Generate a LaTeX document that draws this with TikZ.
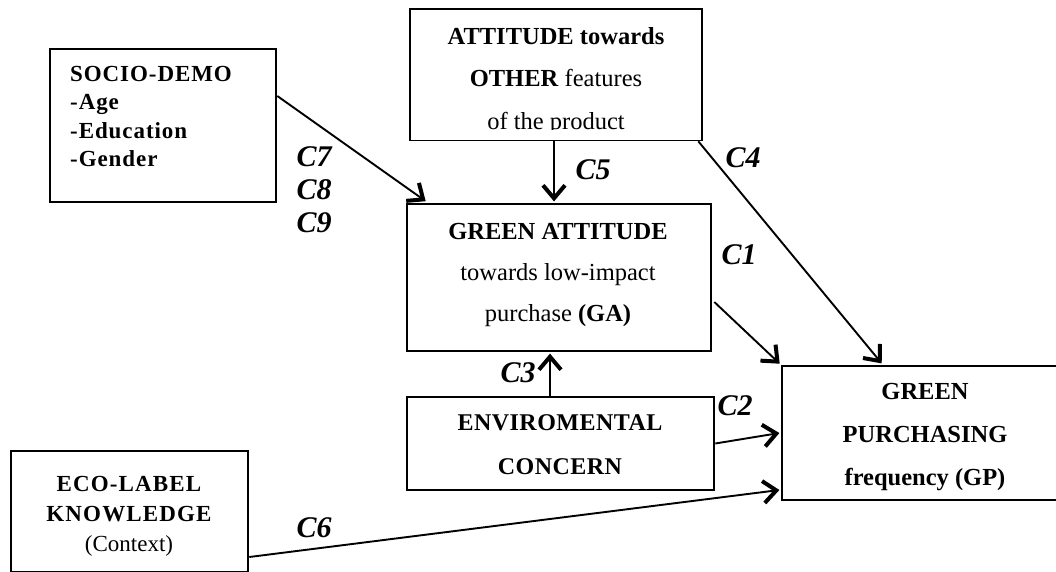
\documentclass[tikz,border=0pt]{standalone}
\usepackage{fontspec}
\setmainfont{Liberation Serif}
\newfontfamily\spfour[LetterSpace=4]{Liberation Serif}
\newfontfamily\spfive[LetterSpace=5]{Liberation Serif}
\newfontfamily\sptwo[LetterSpace=2]{Liberation Serif}
\usetikzlibrary{arrows.meta}
\begin{document}
\begin{tikzpicture}[x=1pt,y=-1pt,
  box/.style={draw, line width=2.6pt, inner sep=0pt, rectangle},
  conn/.style={line width=1.9pt, -{Straight Barb[length=13pt,width=22pt,line width=4pt]}},
  lab/.style={font=\fontsize{30}{30}\selectfont\bfseries\itshape, inner sep=0pt},
  txt/.style={inner sep=0pt, align=center}]
\useasboundingbox (0,0) rectangle (1056,572);
% boxes
\node[box, minimum width=226pt, minimum height=153pt] (socio) at (163,125.5) {};
\node[box, minimum width=292pt, minimum height=131pt] (att) at (556,74.5) {};
\node[box, minimum width=304pt, minimum height=147pt] (ga) at (559,277.5) {};
\node[box, minimum width=307pt, minimum height=93pt] (env) at (560.5,443.5) {};
\node[box, minimum width=288pt, minimum height=134pt] (gp) at (926,433) {};
\node[box, minimum width=237pt, minimum height=121.5pt] (eco) at (129.5,511.75) {};
% texts
\node[txt, anchor=west, align=left, font=\spfour\fontsize{23}{28.3}\selectfont\bfseries] (sociot) at (70,116.5) {SOCIO-DEMO\\-Age\\-Education\\-Gender};
\node[txt, font=\fontsize{24.5}{42.5}\selectfont] (attt) at (556,81) {\textbf{ATTITUDE towards}\\\textbf{OTHER} features\\of the product};
\fill[white] ([xshift=2pt,yshift=11pt]att.south west) rectangle ([xshift=-2pt,yshift=1.4pt]att.south east);
\node[txt, font=\fontsize{24.5}{41}\selectfont] (gat) at (558,275) {\textbf{GREEN ATTITUDE}\\towards low-impact\\purchase \textbf{(GA)}};
\node[txt, font=\sptwo\fontsize{24}{44}\selectfont\bfseries] (envt) at (560,445) {ENVIROMENTAL\\CONCERN};
\node[txt, font=\fontsize{24.5}{43}\selectfont\bfseries] (gpt) at (925,437) {GREEN\\PURCHASING\\frequency (GP)};
\node[txt, font=\fontsize{23}{30}\selectfont] (ecot) at (129,516) {{\spfive\bfseries ECO-LABEL}\\{\spfive\bfseries KNOWLEDGE}\\(Context)};
% connectors
\draw[conn] ([yshift=29.5pt]socio.east) -- ([xshift=20pt,yshift=1.5pt]ga.north west);
\draw[conn] ([xshift=-2pt]att.south) -- ([xshift=-2pt,yshift=1.3pt]att.south |- ga.north);
\draw[conn] ([xshift=-5pt]att.south east) -- ([xshift=101pt,yshift=1.3pt]gp.north west);
\draw[conn] ([xshift=2pt,yshift=-24.5pt]ga.east) -- ([xshift=-1pt,yshift=1pt]gp.north west);
\draw[conn] ([xshift=-10.5pt]env.north) -- ([xshift=-10.5pt,yshift=-1.3pt]env.north |- ga.south);
\draw[conn] (env.east) -- ([xshift=-1.3pt]gp.west);
\draw[conn] ([yshift=-45.25pt]eco.east) -- ([xshift=-1.3pt,yshift=-57pt]gp.west);
% labels
\node[lab] (c7) at (314,157) {C7};
\node[lab] (c8) at (314,190) {C8};
\node[lab] (c9) at (314,223) {C9};
\node[lab] (c5) at (593,170) {C5};
\node[lab] (c4) at (743,158) {C4};
\node[lab] (c1) at (739,255) {C1};
\node[lab] (c3) at (518,373) {C3};
\node[lab] (c2) at (735,406) {C2};
\node[lab] (c6) at (314,528) {C6};
\end{tikzpicture}
\end{document}
